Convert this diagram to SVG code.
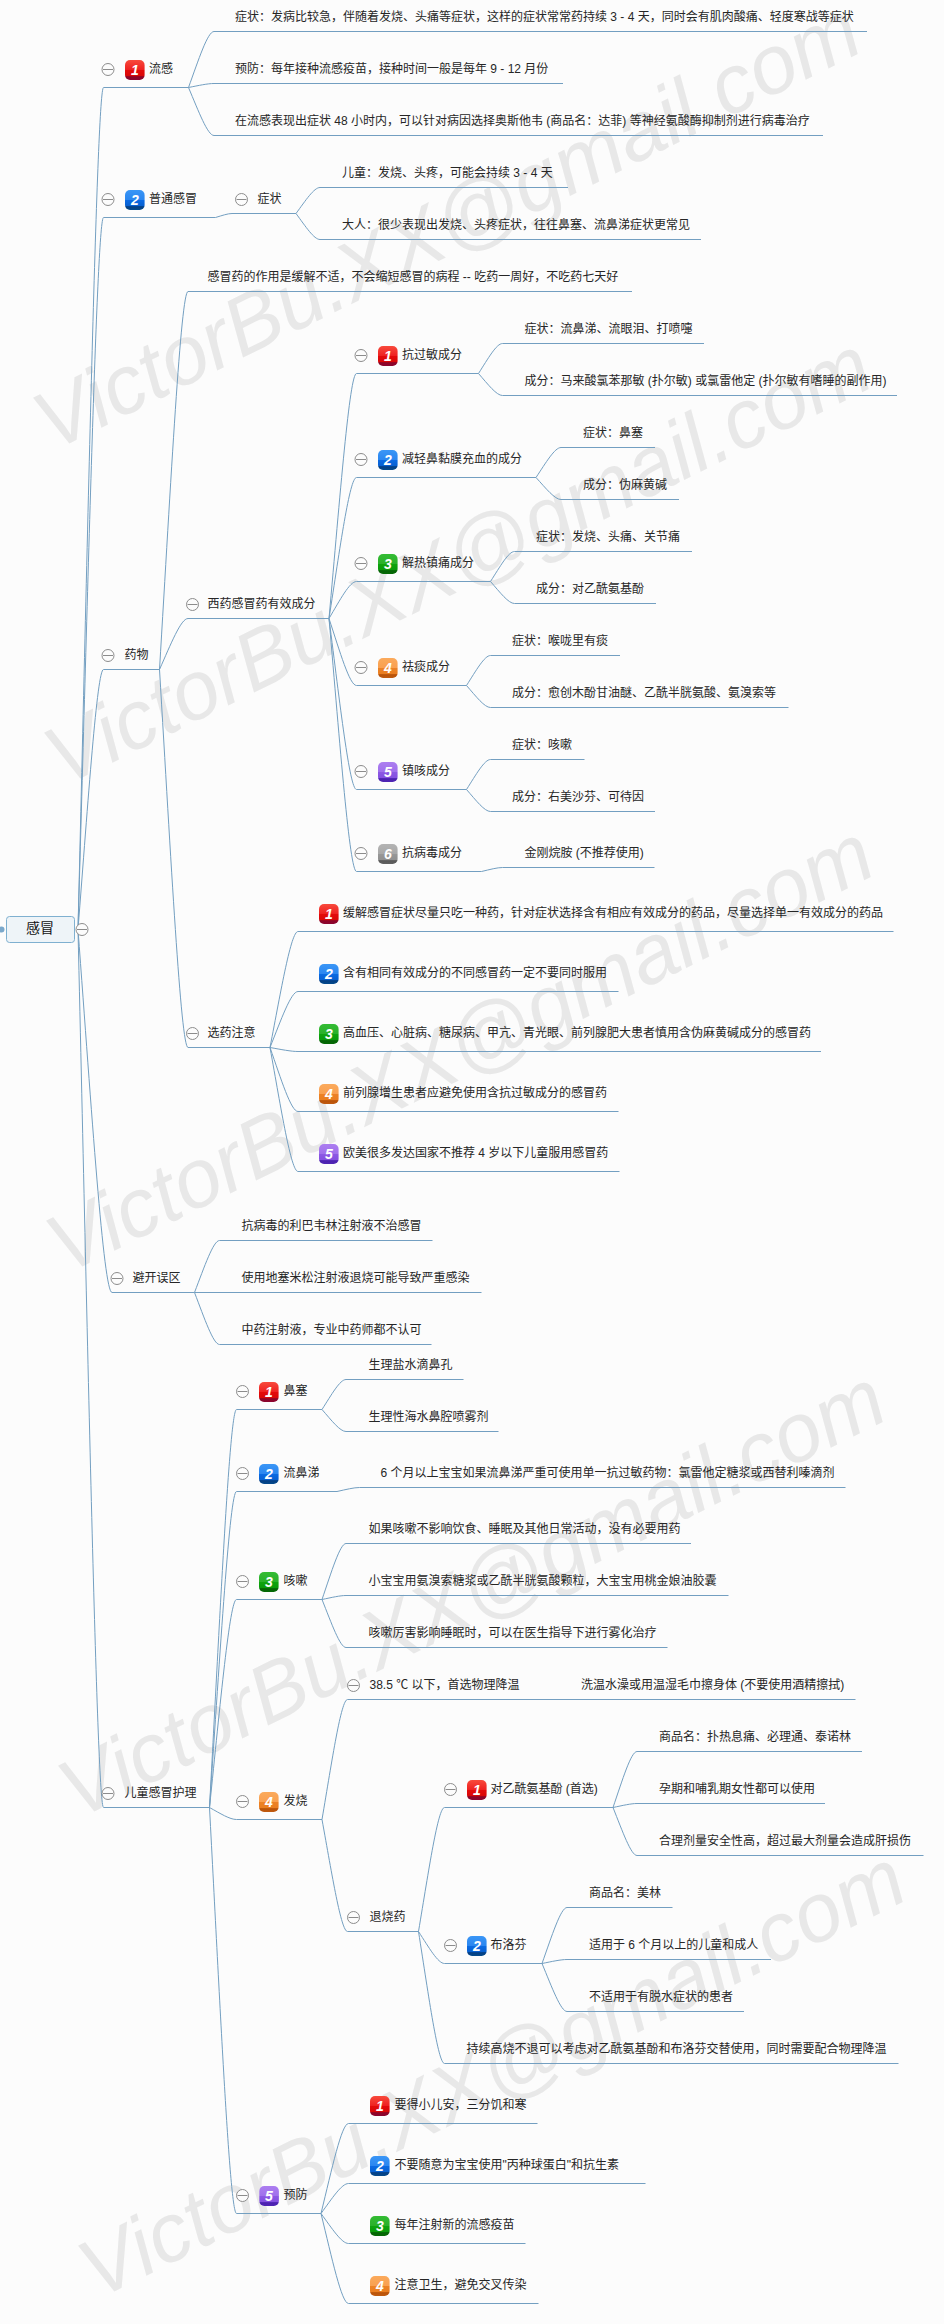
<svg xmlns="http://www.w3.org/2000/svg" width="944" height="2324" viewBox="0 0 944 2324">
<style>
text{font-family:"Liberation Sans","Noto Sans CJK SC",sans-serif;font-size:12px;fill:#262626}
.wm{font-family:"Liberation Sans",sans-serif;font-size:83px;font-style:italic;fill:#e8e8e8}
.num{font-family:"Liberation Sans",sans-serif;font-size:14px;font-weight:bold;font-style:italic;fill:#fff;text-anchor:middle}
.root{font-size:14px;text-anchor:middle;fill:#111}
#connectors path{fill:none;stroke:#739fc1;stroke-width:1}
.ic{fill:#fcfcfc;stroke:#8c8c8c;stroke-width:1}
</style>
<defs>
<linearGradient id="g1" x1="0" y1="0" x2="0" y2="1"><stop offset="0" stop-color="#f84a3c"/><stop offset=".5" stop-color="#ee2020"/><stop offset=".5" stop-color="#e40a0a"/><stop offset=".8" stop-color="#d80808"/><stop offset=".83" stop-color="#8e0426"/><stop offset="1" stop-color="#8a0530"/></linearGradient>
<linearGradient id="g2" x1="0" y1="0" x2="0" y2="1"><stop offset="0" stop-color="#3a96f6"/><stop offset=".5" stop-color="#2a86f0"/><stop offset=".5" stop-color="#0a6ae4"/><stop offset=".8" stop-color="#0860d0"/><stop offset=".83" stop-color="#043e82"/><stop offset="1" stop-color="#044a8c"/></linearGradient>
<linearGradient id="g3" x1="0" y1="0" x2="0" y2="1"><stop offset="0" stop-color="#34bc34"/><stop offset=".5" stop-color="#2ab02a"/><stop offset=".5" stop-color="#0ea40e"/><stop offset=".8" stop-color="#0a9a0a"/><stop offset=".83" stop-color="#056205"/><stop offset="1" stop-color="#056a05"/></linearGradient>
<linearGradient id="g4" x1="0" y1="0" x2="0" y2="1"><stop offset="0" stop-color="#fbaa5c"/><stop offset=".5" stop-color="#f9a050"/><stop offset=".5" stop-color="#ec8226"/><stop offset=".8" stop-color="#ea7e20"/><stop offset=".83" stop-color="#b85208"/><stop offset="1" stop-color="#c05a10"/></linearGradient>
<linearGradient id="g5" x1="0" y1="0" x2="0" y2="1"><stop offset="0" stop-color="#ac7ef0"/><stop offset=".5" stop-color="#a070ec"/><stop offset=".5" stop-color="#8c58e4"/><stop offset=".8" stop-color="#8450e0"/><stop offset=".83" stop-color="#4a20ae"/><stop offset="1" stop-color="#5026b4"/></linearGradient>
<linearGradient id="g6" x1="0" y1="0" x2="0" y2="1"><stop offset="0" stop-color="#b4b4b4"/><stop offset=".5" stop-color="#a8a8a8"/><stop offset=".5" stop-color="#989898"/><stop offset=".8" stop-color="#909090"/><stop offset=".83" stop-color="#585858"/><stop offset="1" stop-color="#606060"/></linearGradient>
<rect id="b1" width="19.6" height="20" rx="5" fill="url(#g1)"/>
<rect id="b2" width="19.6" height="20" rx="5" fill="url(#g2)"/>
<rect id="b3" width="19.6" height="20" rx="5" fill="url(#g3)"/>
<rect id="b4" width="19.6" height="20" rx="5" fill="url(#g4)"/>
<rect id="b5" width="19.6" height="20" rx="5" fill="url(#g5)"/>
<rect id="b6" width="19.6" height="20" rx="5" fill="url(#g6)"/>
<g id="m"><circle class="ic" r="6"/><path class="ic" d="M-5 0H5"/></g>
</defs>
<rect width="944" height="2324" fill="#fcfcfc"/>
<g id="watermarks">
<text class="wm" transform="translate(52 452) rotate(-26.3)">VictorBu.XX@gmail.com</text>
<text class="wm" transform="translate(63 787) rotate(-26.3)">VictorBu.XX@gmail.com</text>
<text class="wm" transform="translate(65 1275) rotate(-26.3)">VictorBu.XX@gmail.com</text>
<text class="wm" transform="translate(77 1820) rotate(-26.3)">VictorBu.XX@gmail.com</text>
<text class="wm" transform="translate(97 2300) rotate(-26.3)">VictorBu.XX@gmail.com</text>
</g>
<g id="connectors">
<path d="M78 929.5c10.2 -421 19.1 -842 25.5 -842h85"/>
<path d="M78 929.5c10.2 -356 19.1 -712 25.5 -712h112c6.6 -2 12.4 -4 16.5 -4h64"/>
<path d="M78 929.5c10.2 -130 19.1 -260 25.5 -260h56"/>
<path d="M78 929.5c13.6 181.5 25.5 363 34 363h82.5"/>
<path d="M78 929.5c10.2 439 19.1 878 25.5 878h106"/>
<path d="M188.5 87.5c10.2 -28 19.1 -56 25.5 -56h653"/>
<path d="M188.5 87.5c10.2 -2 19.1 -4 25.5 -4h349"/>
<path d="M188.5 87.5c10.2 24 19.1 48 25.5 48h609"/>
<path d="M296 213.5c9.6 -13 18 -26 24 -26h248"/>
<path d="M296 213.5c9.6 13 18 26 24 26h381"/>
<path d="M159.5 669.5c11.4 -189 21.4 -378 28.5 -378h444"/>
<path d="M159.5 669.5c11.4 -25.5 21.4 -51 28.5 -51h141"/>
<path d="M159.5 669.5c11.4 189 21.4 378 28.5 378h82"/>
<path d="M329 618.5c11 -122.5 20.6 -245 27.5 -245h122"/>
<path d="M329 618.5c11 -70.5 20.6 -141 27.5 -141h179.5"/>
<path d="M329 618.5c11 -18.5 20.6 -37 27.5 -37h134"/>
<path d="M329 618.5c11 33.5 20.6 67 27.5 67h110"/>
<path d="M329 618.5c11 85.5 20.6 171 27.5 171h110"/>
<path d="M329 618.5c11 126.5 20.6 253 27.5 253h125c8.4 -2 15.8 -4 21 -4h152"/>
<path d="M478.5 373.5c9.6 -15 18 -30 24 -30h201.5"/>
<path d="M478.5 373.5c9.6 11 18 22 24 22h394.5"/>
<path d="M536 477.5c10 -15 18.8 -30 25 -30h94"/>
<path d="M536 477.5c10 11 18.8 22 25 22h118"/>
<path d="M490.5 581.5c9.6 -15 18 -30 24 -30h177.5"/>
<path d="M490.5 581.5c9.6 11 18 22 24 22h141.5"/>
<path d="M466.5 685.5c9.6 -15 18 -30 24 -30h129.5"/>
<path d="M466.5 685.5c9.6 11 18 22 24 22h298"/>
<path d="M466.5 789.5c9.6 -15 18 -30 24 -30h94"/>
<path d="M466.5 789.5c9.6 11 18 22 24 22h164.5"/>
<path d="M270 1047.5c11.2 -58 21 -116 28 -116h595.5"/>
<path d="M270 1047.5c11.2 -28 21 -56 28 -56h320.5"/>
<path d="M270 1047.5c11.2 2 21 4 28 4h523"/>
<path d="M270 1047.5c11.2 32 21 64 28 64h320.5"/>
<path d="M270 1047.5c11.2 62 21 124 28 124h321.5"/>
<path d="M194.5 1292.5c10 -26 18.8 -52 25 -52h213"/>
<path d="M194.5 1292.5h287"/>
<path d="M194.5 1292.5c10 26 18.8 52 25 52h212"/>
<path d="M209.5 1807.5c10.8 -199 20.3 -398 27 -398h85.5"/>
<path d="M209.5 1807.5c10.8 -158 20.3 -316 27 -316h100.5c9 -2 16.9 -4 22.5 -4h486"/>
<path d="M209.5 1807.5c10.8 -104 20.3 -208 27 -208h85.5"/>
<path d="M209.5 1807.5c10.8 6 20.3 12 27 12h85.5"/>
<path d="M209.5 1807.5c10.8 203 20.3 406 27 406h84.5"/>
<path d="M322 1409.5c9.6 -15 18 -30 24 -30h117.5"/>
<path d="M322 1409.5c9.6 11 18 22 24 22h152.5"/>
<path d="M322 1599.5c9.6 -28 18 -56 24 -56h345"/>
<path d="M322 1599.5c9.6 -2 18 -4 24 -4h382.5"/>
<path d="M322 1599.5c9.6 24 18 48 24 48h321.5"/>
<path d="M322 1819.5c10.2 -60 19.1 -120 25.5 -120h508"/>
<path d="M322 1819.5c10.2 56 19.1 112 25.5 112h71"/>
<path d="M418.5 1931.5c10.4 -62 19.5 -124 26 -124h168.5"/>
<path d="M418.5 1931.5c10.4 16 19.5 32 26 32h97.5"/>
<path d="M418.5 1931.5c10.4 66 19.5 132 26 132h454"/>
<path d="M613 1807.5c9.6 -28 18 -56 24 -56h225"/>
<path d="M613 1807.5c9.6 -2 18 -4 24 -4h188"/>
<path d="M613 1807.5c9.6 24 18 48 24 48h286.5"/>
<path d="M542 1963.5c10 -28 18.8 -56 25 -56h105.5"/>
<path d="M542 1963.5c10 -2 18.8 -4 25 -4h204"/>
<path d="M542 1963.5c10 24 18.8 48 25 48h177"/>
<path d="M321 2213.5c11 -45 20.6 -90 27.5 -90h189"/>
<path d="M321 2213.5c11 -15 20.6 -30 27.5 -30h297"/>
<path d="M321 2213.5c11 15 20.6 30 27.5 30h177"/>
<path d="M321 2213.5c11 45 20.6 90 27.5 90h190"/>
</g>
<g id="n-root"><circle cx="1.5" cy="929.5" r="3" fill="#7ba8cb"/><rect x="6.5" y="916.5" width="68" height="26" rx="3" fill="#eef4f8" stroke="#7fb0d0"/><text class="root" x="40" y="933">感冒</text><use href="#m" x="82" y="929.5"/></g>
<g id="n-flu"><use href="#m" x="108" y="69.5"/><use href="#b1" x="125" y="60"/><text class="num" x="134.8" y="75">1</text><text x="149" y="73">流感</text></g>
<g id="n-flu-1"><text x="235" y="21">症状：发病比较急，伴随着发烧、头痛等症状，这样的症状常常药持续 3 - 4 天，同时会有肌肉酸痛、轻度寒战等症状</text></g>
<g id="n-flu-2"><text x="235" y="73">预防：每年接种流感疫苗，接种时间一般是每年 9 - 12 月份</text></g>
<g id="n-flu-3"><text x="235" y="125">在流感表现出症状 48 小时内，可以针对病因选择奥斯他韦 (商品名：达菲) 等神经氨酸酶抑制剂进行病毒治疗</text></g>
<g id="n-cold"><use href="#m" x="108" y="199.5"/><use href="#b2" x="125" y="190"/><text class="num" x="134.8" y="205">2</text><text x="149" y="203">普通感冒</text></g>
<g id="n-cold-s"><use href="#m" x="241.5" y="199.5"/><text x="257.5" y="203">症状</text></g>
<g id="n-cold-1"><text x="342" y="177">儿童：发烧、头疼，可能会持续 3 - 4 天</text></g>
<g id="n-cold-2"><text x="342" y="229">大人：很少表现出发烧、头疼症状，往往鼻塞、流鼻涕症状更常见</text></g>
<g id="n-med"><use href="#m" x="108" y="655.5"/><text x="124.5" y="659">药物</text></g>
<g id="n-med-1"><text x="207.5" y="281">感冒药的作用是缓解不适，不会缩短感冒的病程 -- 吃药一周好，不吃药七天好</text></g>
<g id="n-west"><use href="#m" x="192.5" y="604.5"/><text x="207.5" y="608">西药感冒药有效成分</text></g>
<g id="n-w1"><use href="#m" x="361" y="355.5"/><use href="#b1" x="378" y="346"/><text class="num" x="387.8" y="361">1</text><text x="402" y="359">抗过敏成分</text></g>
<g id="n-w1a"><text x="524.5" y="333">症状：流鼻涕、流眼泪、打喷嚏</text></g>
<g id="n-w1b"><text x="524.5" y="385">成分：马来酸氯苯那敏 (扑尔敏) 或氯雷他定 (扑尔敏有嗜睡的副作用)</text></g>
<g id="n-w2"><use href="#m" x="361" y="459.5"/><use href="#b2" x="378" y="450"/><text class="num" x="387.8" y="465">2</text><text x="402" y="463">减轻鼻黏膜充血的成分</text></g>
<g id="n-w2a"><text x="583" y="437">症状：鼻塞</text></g>
<g id="n-w2b"><text x="583" y="489">成分：伪麻黄碱</text></g>
<g id="n-w3"><use href="#m" x="361" y="563.5"/><use href="#b3" x="378" y="554"/><text class="num" x="387.8" y="569">3</text><text x="402" y="567">解热镇痛成分</text></g>
<g id="n-w3a"><text x="536" y="541">症状：发烧、头痛、关节痛</text></g>
<g id="n-w3b"><text x="536" y="593">成分：对乙酰氨基酚</text></g>
<g id="n-w4"><use href="#m" x="361" y="667.5"/><use href="#b4" x="378" y="658"/><text class="num" x="387.8" y="673">4</text><text x="402" y="671">祛痰成分</text></g>
<g id="n-w4a"><text x="512" y="645">症状：喉咙里有痰</text></g>
<g id="n-w4b"><text x="512" y="697">成分：愈创木酚甘油醚、乙酰半胱氨酸、氨溴索等</text></g>
<g id="n-w5"><use href="#m" x="361" y="771.5"/><use href="#b5" x="378" y="762"/><text class="num" x="387.8" y="777">5</text><text x="402" y="775">镇咳成分</text></g>
<g id="n-w5a"><text x="512" y="749">症状：咳嗽</text></g>
<g id="n-w5b"><text x="512" y="801">成分：右美沙芬、可待因</text></g>
<g id="n-w6"><use href="#m" x="361" y="853.5"/><use href="#b6" x="378" y="844"/><text class="num" x="387.8" y="859">6</text><text x="402" y="857">抗病毒成分</text></g>
<g id="n-w6a"><text x="524.5" y="857">金刚烷胺 (不推荐使用)</text></g>
<g id="n-pick"><use href="#m" x="192.5" y="1033.5"/><text x="207.5" y="1037">选药注意</text></g>
<g id="n-p1"><use href="#b1" x="319" y="904"/><text class="num" x="328.8" y="919">1</text><text x="343" y="917">缓解感冒症状尽量只吃一种药，针对症状选择含有相应有效成分的药品，尽量选择单一有效成分的药品</text></g>
<g id="n-p2"><use href="#b2" x="319" y="964"/><text class="num" x="328.8" y="979">2</text><text x="343" y="977">含有相同有效成分的不同感冒药一定不要同时服用</text></g>
<g id="n-p3"><use href="#b3" x="319" y="1024"/><text class="num" x="328.8" y="1039">3</text><text x="343" y="1037">高血压、心脏病、糖尿病、甲亢、青光眼、前列腺肥大患者慎用含伪麻黄碱成分的感冒药</text></g>
<g id="n-p4"><use href="#b4" x="319" y="1084"/><text class="num" x="328.8" y="1099">4</text><text x="343" y="1097">前列腺增生患者应避免使用含抗过敏成分的感冒药</text></g>
<g id="n-p5"><use href="#b5" x="319" y="1144"/><text class="num" x="328.8" y="1159">5</text><text x="343" y="1157">欧美很多发达国家不推荐 4 岁以下儿童服用感冒药</text></g>
<g id="n-avoid"><use href="#m" x="117" y="1278.5"/><text x="132.5" y="1282">避开误区</text></g>
<g id="n-a1"><text x="241.5" y="1230">抗病毒的利巴韦林注射液不治感冒</text></g>
<g id="n-a2"><text x="241.5" y="1282">使用地塞米松注射液退烧可能导致严重感染</text></g>
<g id="n-a3"><text x="241.5" y="1334">中药注射液，专业中药师都不认可</text></g>
<g id="n-kid"><use href="#m" x="108" y="1793.5"/><text x="124.5" y="1797">儿童感冒护理</text></g>
<g id="n-k1"><use href="#m" x="242.5" y="1391.5"/><use href="#b1" x="259" y="1382"/><text class="num" x="268.8" y="1397">1</text><text x="283.5" y="1395">鼻塞</text></g>
<g id="n-k1a"><text x="368.5" y="1369">生理盐水滴鼻孔</text></g>
<g id="n-k1b"><text x="368.5" y="1421">生理性海水鼻腔喷雾剂</text></g>
<g id="n-k2"><use href="#m" x="242.5" y="1473.5"/><use href="#b2" x="259" y="1464"/><text class="num" x="268.8" y="1479">2</text><text x="283.5" y="1477">流鼻涕</text></g>
<g id="n-k2a"><text x="380.5" y="1477">6 个月以上宝宝如果流鼻涕严重可使用单一抗过敏药物：氯雷他定糖浆或西替利嗪滴剂</text></g>
<g id="n-k3"><use href="#m" x="242.5" y="1581.5"/><use href="#b3" x="259" y="1572"/><text class="num" x="268.8" y="1587">3</text><text x="283.5" y="1585">咳嗽</text></g>
<g id="n-k3a"><text x="368.5" y="1533">如果咳嗽不影响饮食、睡眠及其他日常活动，没有必要用药</text></g>
<g id="n-k3b"><text x="368.5" y="1585">小宝宝用氨溴索糖浆或乙酰半胱氨酸颗粒，大宝宝用桃金娘油胶囊</text></g>
<g id="n-k3c"><text x="368.5" y="1637">咳嗽厉害影响睡眠时，可以在医生指导下进行雾化治疗</text></g>
<g id="n-k4"><use href="#m" x="242.5" y="1801.5"/><use href="#b4" x="259" y="1792"/><text class="num" x="268.8" y="1807">4</text><text x="283.5" y="1805">发烧</text></g>
<g id="n-k4a"><use href="#m" x="353.5" y="1685.5"/><text x="369.5" y="1689">38.5 ℃ 以下，首选物理降温</text></g>
<g id="n-k4a1"><text x="581" y="1689">洗温水澡或用温湿毛巾擦身体 (不要使用酒精擦拭)</text></g>
<g id="n-k4b"><use href="#m" x="353.5" y="1917.5"/><text x="369.5" y="1921">退烧药</text></g>
<g id="n-d1"><use href="#m" x="450.5" y="1789.5"/><use href="#b1" x="467" y="1780"/><text class="num" x="476.8" y="1795">1</text><text x="490.5" y="1793">对乙酰氨基酚 (首选)</text></g>
<g id="n-d1a"><text x="659" y="1741">商品名：扑热息痛、必理通、泰诺林</text></g>
<g id="n-d1b"><text x="659" y="1793">孕期和哺乳期女性都可以使用</text></g>
<g id="n-d1c"><text x="659" y="1845">合理剂量安全性高，超过最大剂量会造成肝损伤</text></g>
<g id="n-d2"><use href="#m" x="450.5" y="1945.5"/><use href="#b2" x="467" y="1936"/><text class="num" x="476.8" y="1951">2</text><text x="490.5" y="1949">布洛芬</text></g>
<g id="n-d2a"><text x="589" y="1897">商品名：美林</text></g>
<g id="n-d2b"><text x="589" y="1949">适用于 6 个月以上的儿童和成人</text></g>
<g id="n-d2c"><text x="589" y="2001">不适用于有脱水症状的患者</text></g>
<g id="n-d3"><text x="466.5" y="2053">持续高烧不退可以考虑对乙酰氨基酚和布洛芬交替使用，同时需要配合物理降温</text></g>
<g id="n-k5"><use href="#m" x="242.5" y="2195.5"/><use href="#b5" x="259.3" y="2186"/><text class="num" x="269" y="2201">5</text><text x="283.5" y="2199">预防</text></g>
<g id="n-k5a"><use href="#b1" x="370" y="2096"/><text class="num" x="379.8" y="2111">1</text><text x="394.5" y="2109">要得小儿安，三分饥和寒</text></g>
<g id="n-k5b"><use href="#b2" x="370" y="2156"/><text class="num" x="379.8" y="2171">2</text><text x="394.5" y="2169">不要随意为宝宝使用"丙种球蛋白"和抗生素</text></g>
<g id="n-k5c"><use href="#b3" x="370" y="2216"/><text class="num" x="379.8" y="2231">3</text><text x="394.5" y="2229">每年注射新的流感疫苗</text></g>
<g id="n-k5d"><use href="#b4" x="370" y="2276"/><text class="num" x="379.8" y="2291">4</text><text x="394.5" y="2289">注意卫生，避免交叉传染</text></g>
</svg>
